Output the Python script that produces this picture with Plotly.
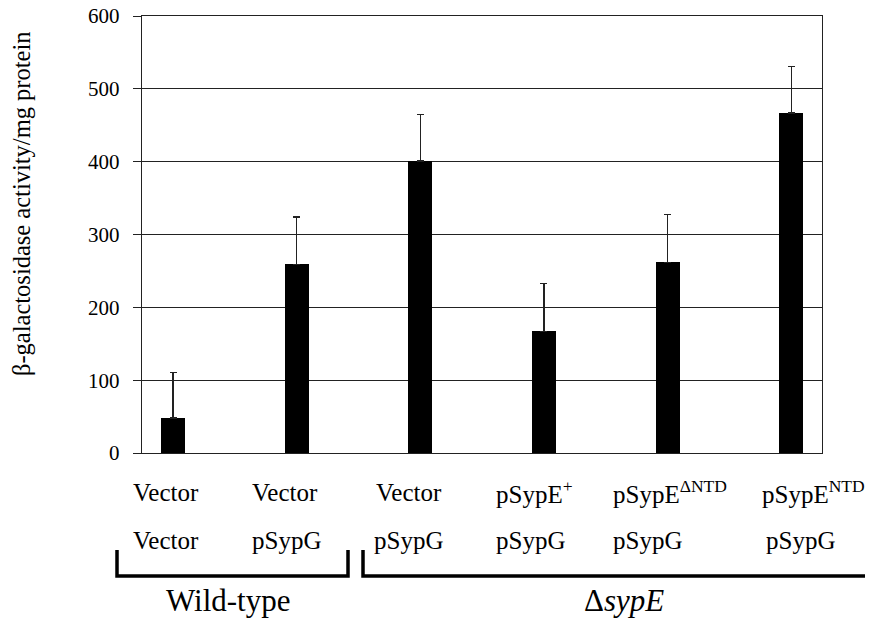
import plotly.graph_objects as go

# ---- data ----
positions = [1, 2, 3, 4, 5, 6]
activity = [48, 259, 401, 167, 262, 467]
errors = [63, 65, 64, 66, 65, 64]
row1_labels = ["Vector", "Vector", "Vector", "pSypE<sup>+</sup>", "pSypE<sup>ΔNTD</sup>", "pSypE<sup>NTD</sup>"]
row2_labels = ["Vector", "pSypG", "pSypG", "pSypG", "pSypG", "pSypG"]
group_labels = ["Wild-type", "Δ<i>sypE</i>"]
y_ticks = [0, 100, 200, 300, 400, 500, 600]
y_title = "β-galactosidase activity/mg protein"

# ---- layout geometry (screen pixels; page body has an 8px margin) ----
OFF = 8
W, H = 873 - OFF, 624 - OFF
L, R, T, B = 142 - OFF, 822 - OFF, 16 - OFF, 453 - OFF
def px(x):
    return (x - OFF - L) / (R - L)
def py(y):
    return (B - (y - OFF)) / (B - T)

FONT = "Liberation Serif"
LINE = "#222222"

fig = go.Figure()
fig.add_trace(go.Bar(
    x=positions, y=activity, width=0.194,
    marker=dict(color="black", line=dict(width=0)),
    error_y=dict(type="data", array=errors, symmetric=False,
                 arrayminus=[0] * len(errors),
                 color=LINE, thickness=1.3, width=3.5),
    showlegend=False,
))

annotations = []
row1_left = [131, 250, 374, 494, 611, 760]
row2_left = [131, 250, 372, 494, 611, 764]
for lbl, xl in zip(row1_labels, row1_left):
    annotations.append(dict(text=lbl, x=px(xl), y=py(492), xref="paper", yref="paper",
                            xanchor="left", yanchor="middle", showarrow=False,
                            font=dict(family=FONT, size=25, color="black")))
for lbl, xl in zip(row2_labels, row2_left):
    annotations.append(dict(text=lbl, x=px(xl), y=py(540), xref="paper", yref="paper",
                            xanchor="left", yanchor="middle", showarrow=False,
                            font=dict(family=FONT, size=25, color="black")))
for lbl, xc in zip(group_labels, [228, 624]):
    annotations.append(dict(text=lbl, x=px(xc), y=py(600), xref="paper", yref="paper",
                            xanchor="center", yanchor="middle", showarrow=False,
                            font=dict(family=FONT, size=31, color="black")))
annotations.append(dict(text=y_title, x=px(22), y=py(204), xref="paper", yref="paper",
                        xanchor="center", yanchor="middle", textangle=-90, showarrow=False,
                        font=dict(family=FONT, size=24.5, color="black")))

shapes = [
    dict(type="path", xref="paper", yref="paper",
         path=f"M {px(117)},{py(550)} L {px(117)},{py(576)} L {px(348)},{py(576)} L {px(348)},{py(550)}",
         line=dict(color="black", width=3.5)),
    dict(type="path", xref="paper", yref="paper",
         path=f"M {px(363)},{py(550)} L {px(363)},{py(576)} L {px(885)},{py(576)}",
         line=dict(color="black", width=3.5)),
]

fig.update_layout(
    width=W, height=H,
    margin=dict(l=L, r=W - R, t=T, b=H - B, pad=0, autoexpand=False),
    paper_bgcolor="white", plot_bgcolor="white",
    annotations=annotations, shapes=shapes,
    xaxis=dict(range=[0.749, 6.249], showticklabels=False, ticks="", showgrid=False,
               zeroline=False, showline=True, linecolor=LINE, linewidth=1.4, mirror=True,
               fixedrange=True, automargin=False),
    yaxis=dict(range=[0, 600], tickvals=y_ticks, ticks="outside", ticklen=8,
               ticklabelstandoff=9, ticklabeloverflow="allow",
               tickcolor=LINE, tickwidth=1.4, showgrid=True, gridcolor=LINE, gridwidth=1.4,
               zeroline=False, showline=True, linecolor=LINE, linewidth=1.4, mirror=True,
               tickfont=dict(family=FONT, size=21, color="black"), fixedrange=True,
               automargin=False),
    bargap=0,
)

fig.write_html("out.html")
